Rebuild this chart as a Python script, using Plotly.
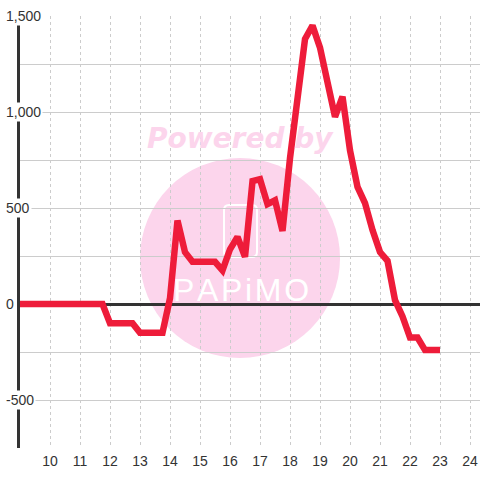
import plotly.graph_objects as go

# hour of day vs value (vertices)
hours = [9, 11.75, 12, 12.75, 13, 13.75, 14, 14.25, 14.5, 14.75, 15.5, 15.75, 16,
         16.25, 16.5, 16.75, 17, 17.25, 17.5, 17.75, 18, 18.25, 18.5, 18.75, 19,
         19.25, 19.5, 19.75, 20, 20.25, 20.5, 20.75, 21, 21.25, 21.5, 21.75, 22,
         22.25, 22.5, 22.75, 23]
values = [0, 0, -100, -100, -150, -150, 30, 435, 270, 220, 220, 175, 285,
          350, 245, 640, 650, 520, 540, 380, 760, 1075, 1380, 1450, 1335,
          1155, 975, 1080, 800, 610, 525, 385, 270, 225, 20, -65, -175,
          -175, -240, -240, -240]

x_ticks = list(range(10, 25))
y_labels = [-500, 0, 500, 1000, 1500]

FONT = "Liberation Sans"
INK = "#333333"
GRID = "#cccccc"
PINK = "#fcd5ec"

fig = go.Figure()
fig.add_trace(go.Scatter(
    x=hours, y=values, mode="lines",
    line=dict(color="#ee1c3a", width=6.5),
    hoverinfo="skip", showlegend=False,
))

# watermark: pink disc + "Powered by" + logo outline
fig.add_shape(type="circle", xref="paper", yref="paper",
              x0=0.2609, x1=0.6957, y0=0.2083, y1=0.6713,
              fillcolor=PINK, line=dict(width=0), layer="below")
fig.add_shape(type="path", xref="paper", yref="paper", layer="below",
              path="M 0.4544,0.5625 L 0.5043,0.5625 Q 0.5152,0.5625 0.5152,0.5509 "
                   "L 0.5152,0.4537 Q 0.5152,0.4421 0.5043,0.4421 L 0.4544,0.4421 "
                   "Q 0.4435,0.4421 0.4435,0.4537 L 0.4435,0.5509 "
                   "Q 0.4435,0.5625 0.4544,0.5625 Z",
              line=dict(color="white", width=2))
fig.add_annotation(text="Powered by", xref="paper", yref="paper", x=0.4804, y=0.716,
                   showarrow=False, xanchor="center", yanchor="middle",
                   font=dict(family="DejaVu Sans", size=28, color=PINK,
                             weight="bold", style="italic"))
fig.add_annotation(text="P\u200aA\u200aP\u200ai\u200aM\u200aO", xref="paper", yref="paper",
                   x=0.480, y=0.366, showarrow=False, xanchor="center", yanchor="middle",
                   font=dict(family=FONT, size=32, color="white"))

# y labels sit on top of the axis line with a white box behind them
for v in y_labels:
    fig.add_annotation(text=f"{v:,}", xref="paper", yref="y", x=0, y=v,
                       xanchor="left", yanchor="middle", xshift=-16,
                       showarrow=False, bgcolor="white", borderpad=1,
                       font=dict(family=FONT, size=14, color=INK))

fig.update_layout(
    width=480, height=480,
    margin=dict(l=20, r=0, t=16, b=32),
    paper_bgcolor="white", plot_bgcolor="white",
    font=dict(family=FONT, size=14, color=INK),
    xaxis=dict(range=[9, 24.333], tickvals=x_ticks, showgrid=True,
               gridcolor=GRID, gridwidth=1, griddash="3px,3px",
               zeroline=False, showline=False, ticks="", ticklabelstandoff=3,
               tickfont=dict(family=FONT, size=14, color=INK), fixedrange=True),
    yaxis=dict(range=[-750, 1500], dtick=250, showgrid=True, gridcolor=GRID,
               gridwidth=1, showticklabels=False, ticks="",
               zeroline=True, zerolinecolor=INK, zerolinewidth=3,
               showline=True, linecolor=INK, linewidth=3, fixedrange=True),
)

# page body has a default 8px margin; drop it so the figure fills the window
fig.write_html("out.html", config={"displayModeBar": False},
               post_script="document.body.style.margin='0';")
